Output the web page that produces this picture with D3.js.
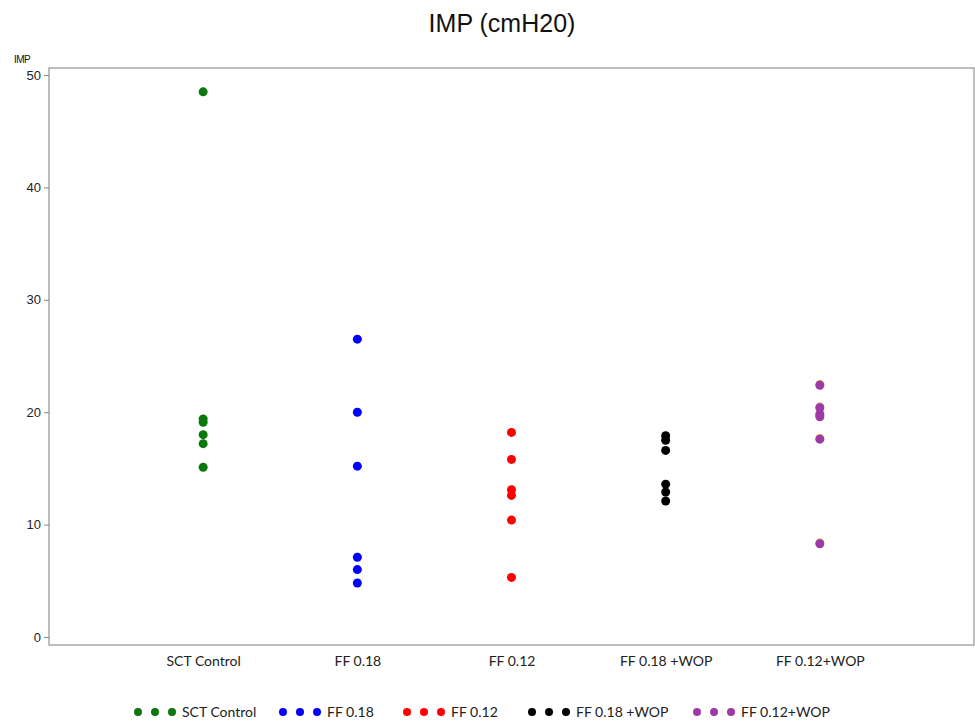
<!DOCTYPE html>
<html>
<head>
<meta charset="utf-8">
<script src="https://cdn.jsdelivr.net/npm/d3@7"></script>
<style>
  body { margin: 0; background: #fff; }
  .tick text { font-family: "Liberation Sans", Arial, sans-serif; }
</style>
</head>
<body>
<div id="chart"></div>
<script>
const groups = ["SCT Control", "FF 0.18", "FF 0.12", "FF 0.18 +WOP", "FF 0.12+WOP"];
const colors = ["#0a780a", "#0000ff", "#ff0000", "#000000", "#9c3aa8"];
const sctControl = [48.5, 19.4, 19.1, 18.0, 17.2, 15.1];
const ff018 = [26.5, 20.0, 15.2, 7.1, 6.0, 4.8];
const ff012 = [18.2, 15.8, 13.1, 12.6, 10.4, 5.3];
const ff018wop = [17.9, 17.5, 16.6, 13.6, 12.9, 12.1];
const ff012wop = [22.4, 20.4, 19.8, 19.6, 17.6, 8.3];
const yTicks = [0, 10, 20, 30, 40, 50];

const series = [sctControl, ff018, ff012, ff018wop, ff012wop];

let margin = {top: 68, right: 1, bottom: 76, left: 49},
    width = 975 - margin.left - margin.right,
    height = 721 - margin.top - margin.bottom;

let svg = d3.select("#chart")
            .append("svg")
            .attr("width", 975)
            .attr("height", 721);

let g = svg.append("g")
           .attr("transform", "translate(" + margin.left + "," + margin.top + ")");

let x = d3.scalePoint()
          .domain(groups)
          .range([0, width])
          .padding(1);

let y = d3.scaleLinear()
          .domain([0, 50])
          .range([569, 7]);

// frame
g.append("rect")
 .attr("x", 0)
 .attr("y", 0)
 .attr("width", width)
 .attr("height", height)
 .attr("fill", "none")
 .attr("stroke", "#a8a8a8")
 .attr("stroke-width", 1.5);

let yAxis = g.append("g")
             .call(d3.axisLeft(y).tickValues(yTicks).tickSize(5).tickPadding(3));
yAxis.select(".domain").remove();
yAxis.selectAll(".tick line").attr("stroke", "#888");
yAxis.selectAll(".tick text")
     .style("font-size", "13px")
     .attr("fill", "#222");

let xAxis = g.append("g")
             .attr("transform", "translate(0," + height + ")")
             .call(d3.axisBottom(x).tickSize(0).tickPadding(11));
xAxis.select(".domain").remove();
xAxis.selectAll(".tick text")
     .style("font-family", "Lato, 'Open Sans', sans-serif")
     .style("font-size", "14px")
     .attr("fill", "#222");

// points
series.forEach(function(vals, i) {
    if (i === 4) {
        g.append("g")
         .selectAll("circle")
         .data(vals)
         .enter()
         .append("circle")
         .attr("cx", x(groups[i]))
         .attr("cy", function(d) { return y(d) - 1; })
         .attr("r", 4.3)
         .attr("fill", "#e0a040");
    }
    g.append("g")
     .selectAll("circle")
     .data(vals)
     .enter()
     .append("circle")
     .attr("cx", x(groups[i]))
     .attr("cy", function(d) { return y(d); })
     .attr("r", 4.5)
     .attr("fill", colors[i]);
});

svg.append("text")
   .attr("x", 502)
   .attr("y", 32)
   .attr("text-anchor", "middle")
   .style("font-family", "'Liberation Sans', Arial, sans-serif")
   .style("font-size", "25px")
   .attr("fill", "#111")
   .text("IMP (cmH20)");

svg.append("text")
   .attr("x", 14)
   .attr("y", 63)
   .style("font-family", "'Liberation Sans', Arial, sans-serif")
   .style("font-size", "10px")
   .style("letter-spacing", "-0.5px")
   .attr("fill", "#111")
   .text("IMP");

// legend
const legendX = [138, 283, 407, 532, 697];
groups.forEach(function(name, i) {
    let lg = svg.append("g")
                .attr("transform", "translate(" + legendX[i] + ",712)");
    [0, 17, 34].forEach(function(dx) {
        lg.append("circle")
          .attr("cx", dx)
          .attr("cy", 0)
          .attr("r", 4)
          .attr("fill", colors[i]);
    });
    lg.append("text")
      .attr("x", 44)
      .attr("y", 0)
      .attr("dy", "0.35em")
      .style("font-family", "Lato, 'Open Sans', sans-serif")
      .style("font-size", "14px")
      .attr("fill", "#222")
      .text(name);
});
</script>
</body>
</html>
